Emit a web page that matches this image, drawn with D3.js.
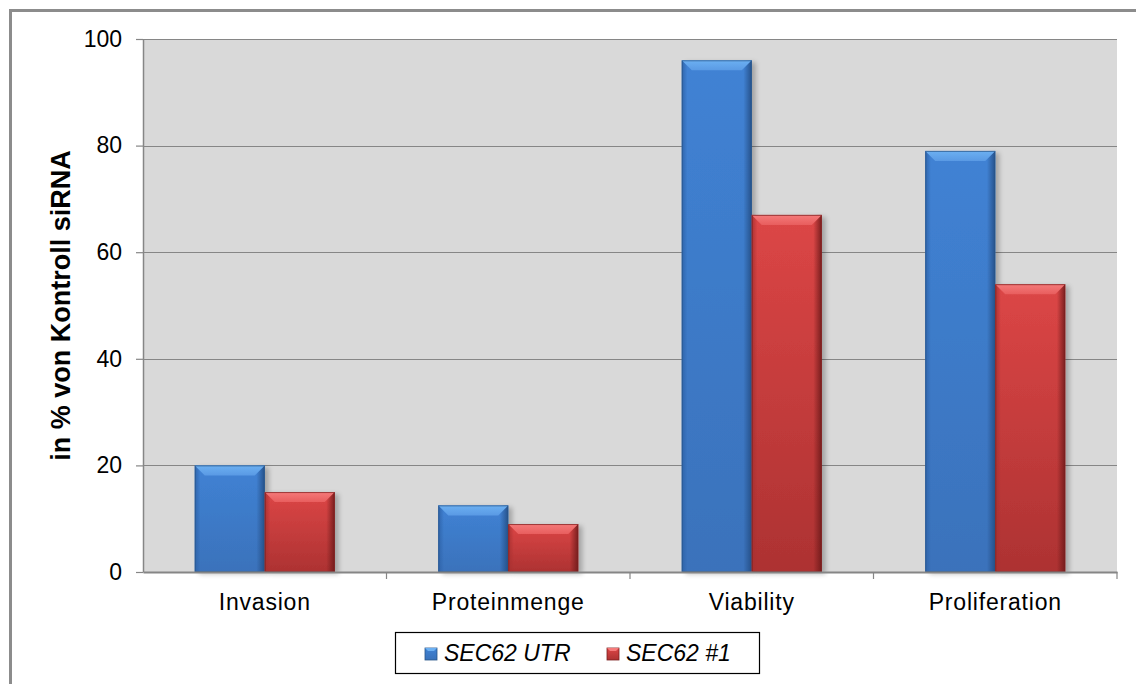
<!DOCTYPE html>
<html>
<head>
<meta charset="utf-8">
<script src="https://cdn.jsdelivr.net/npm/d3@7"></script>
<style>
  html, body { margin: 0; padding: 0; background: #fff; }
  svg { display: block; font-family: "Liberation Sans", Arial, sans-serif; }
</style>
</head>
<body>
<svg id="chart" width="1136" height="684"></svg>
<script>
// Knockdown effects relative to control siRNA (%)
const categories = ["Invasion", "Proteinmenge", "Viability", "Proliferation"];
const seriesNames = ["SEC62 UTR", "SEC62 #1"];
const utrValues = [20, 12.5, 96, 79];
const oneValues = [15, 9, 67, 54];
const yTicks = [0, 20, 40, 60, 80, 100];

const W = 1136, H = 684;
const margin = { left: 143, right: 19, top: 39, bottom: 112 };
const svg = d3.select("#chart");

// outer frame
svg.append("rect")
  .attr("x", 10.5).attr("y", 10.5)
  .attr("width", W + 20).attr("height", H + 20)
  .attr("fill", "none").attr("stroke", "#8c8c8c").attr("stroke-width", 3);

const x0 = d3.scaleBand().domain(categories)
  .range([margin.left, W - margin.right]).paddingInner(0).paddingOuter(0);
const x1 = d3.scaleBand().domain(seriesNames)
  .range([0, x0.bandwidth()]).paddingInner(0).paddingOuter(0.74);
const y = d3.scaleLinear().domain([0, 100]).range([H - margin.bottom, margin.top]);

const defs = svg.append("defs");
const palettes = {
  "SEC62 UTR": { top: "#4082d4", bottom: "#3a72bb", edgeL: "#2d62a8", edgeR: "#234c82", bevel: "#6cb0f2", bevel2: "#5a9ae4", outline: "#2a5688" },
  "SEC62 #1": { top: "#dc4646", bottom: "#ad3232", edgeL: "#a83030", edgeR: "#6e1a1a", bevel: "#f57a7a", bevel2: "#e85e5e", outline: "#7a2020" }
};
seriesNames.forEach((s, i) => {
  const p = palettes[s];
  const g = defs.append("linearGradient").attr("id", "body" + i)
    .attr("x1", 0).attr("y1", 0).attr("x2", 0).attr("y2", 1);
  g.append("stop").attr("offset", "0%").attr("stop-color", p.top);
  g.append("stop").attr("offset", "100%").attr("stop-color", p.bottom);
  const h = defs.append("linearGradient").attr("id", "shade" + i)
    .attr("x1", 0).attr("y1", 0).attr("x2", 1).attr("y2", 0);
  h.append("stop").attr("offset", "0%").attr("stop-color", p.edgeL).attr("stop-opacity", 0.9);
  h.append("stop").attr("offset", "8%").attr("stop-color", p.edgeL).attr("stop-opacity", 0);
  h.append("stop").attr("offset", "88%").attr("stop-color", p.edgeR).attr("stop-opacity", 0);
  h.append("stop").attr("offset", "100%").attr("stop-color", p.edgeR).attr("stop-opacity", 0.9);
  const b = defs.append("linearGradient").attr("id", "bevel" + i)
    .attr("x1", 0).attr("y1", 0).attr("x2", 0).attr("y2", 1);
  b.append("stop").attr("offset", "0%").attr("stop-color", p.bevel);
  b.append("stop").attr("offset", "100%").attr("stop-color", p.bevel2);
});
const shadow = defs.append("filter").attr("id", "shadow")
  .attr("x", "-20%").attr("y", "-10%").attr("width", "150%").attr("height", "130%");
shadow.append("feGaussianBlur").attr("in", "SourceAlpha").attr("stdDeviation", 2.5);
shadow.append("feOffset").attr("dx", 4).attr("dy", 2).attr("result", "o");
shadow.append("feComponentTransfer").append("feFuncA").attr("type", "linear").attr("slope", 0.25);
const merge = shadow.append("feMerge");
merge.append("feMergeNode");
merge.append("feMergeNode").attr("in", "SourceGraphic");

// plot background
svg.append("rect")
  .attr("x", margin.left).attr("y", margin.top)
  .attr("width", W - margin.right - margin.left)
  .attr("height", y(0) - margin.top)
  .attr("fill", "#d9d9d9");

// gridlines
svg.append("g").selectAll("line").data(yTicks.filter(d => d > 0)).join("line")
  .attr("x1", margin.left).attr("x2", W - margin.right)
  .attr("y1", d => Math.round(y(d)) + 0.5).attr("y2", d => Math.round(y(d)) + 0.5)
  .attr("stroke", "#868686").attr("stroke-width", 1.2);

// bars
const rows = categories.map((c, k) => ({ cat: c, vals: [utrValues[k], oneValues[k]] }));
const barG = svg.append("g");
rows.forEach(r => {
  r.vals.forEach((v, i) => {
    const s = seriesNames[i];
    const p = palettes[s];
    const bx = x0(r.cat) + x1(s);
    const bw = x1.bandwidth();
    const by = y(v);
    const bh = y(0) - y(v);
    const g = barG.append("g");
    g.append("rect").attr("x", bx).attr("y", by).attr("width", bw).attr("height", bh)
      .attr("fill", `url(#body${i})`).attr("filter", "url(#shadow)");
    g.append("rect").attr("x", bx).attr("y", by).attr("width", bw).attr("height", bh)
      .attr("fill", `url(#shade${i})`);
    const bev = Math.min(10, bh * 0.4);
    g.append("path")
      .attr("d", `M${bx},${by} L${bx + bw},${by} L${bx + bw - bev},${by + bev} L${bx + bev},${by + bev} Z`)
      .attr("fill", `url(#bevel${i})`);
    g.append("rect").attr("x", bx + 0.5).attr("y", by + 0.5).attr("width", bw - 1).attr("height", bh - 1)
      .attr("fill", "none").attr("stroke", p.outline).attr("stroke-width", 1).attr("stroke-opacity", 0.7);
  });
});

// y axis
const yAxis = svg.append("g").attr("transform", `translate(${margin.left},0)`)
  .call(d3.axisLeft(y).tickValues(yTicks).tickSize(7).tickPadding(14).tickSizeOuter(0));
yAxis.select(".domain").attr("stroke", "#868686").attr("stroke-width", 1.5);
yAxis.selectAll(".tick line").attr("stroke", "#868686").attr("stroke-width", 1.2);
yAxis.selectAll(".tick text").attr("fill", "#000").attr("font-size", 23)
  .attr("font-family", "'Liberation Sans', Arial, sans-serif");

// x axis
const xAxis = svg.append("g").attr("transform", `translate(0,${y(0)})`)
  .call(d3.axisBottom(x0).tickSize(0).tickPadding(22).tickSizeOuter(0));
xAxis.select(".domain").attr("stroke", "#868686").attr("stroke-width", 2);
xAxis.selectAll(".tick text").attr("fill", "#000").attr("font-size", 23)
  .attr("letter-spacing", 0.8)
  .attr("font-family", "'Liberation Sans', Arial, sans-serif");
// category separators
svg.append("g").selectAll("line").data(categories).join("line")
  .attr("x1", d => x0(d) + x0.bandwidth()).attr("x2", d => x0(d) + x0.bandwidth())
  .attr("y1", y(0)).attr("y2", y(0) + 7)
  .attr("stroke", "#868686").attr("stroke-width", 1.2);

// y axis title
svg.append("text")
  .attr("transform", `translate(70,${(y(0) + y(100)) / 2}) rotate(-90)`)
  .attr("text-anchor", "middle")
  .attr("font-size", 27).attr("font-weight", "bold")
  .text("in % von Kontroll siRNA");

// legend
const legend = svg.append("g");
legend.append("rect").attr("x", 395.5).attr("y", 632.5).attr("width", 364).attr("height", 41)
  .attr("fill", "#fff").attr("stroke", "#000").attr("stroke-width", 1.2);
const legX = [425, 607];
seriesNames.forEach((s, i) => {
  const p = palettes[s];
  const lx = legX[i];
  legend.append("rect").attr("x", lx).attr("y", 648).attr("width", 12).attr("height", 12)
    .attr("fill", `url(#body${i})`).attr("stroke", p.outline).attr("stroke-width", 0.8);
  legend.append("path")
    .attr("d", `M${lx},${648} L${lx + 12},${648} L${lx + 9},${651} L${lx + 3},${651} Z`)
    .attr("fill", p.bevel);
  legend.append("text").attr("x", lx + 19).attr("y", 661)
    .attr("font-size", 23).attr("font-style", "italic")
    .text(s);
});
</script>
</body>
</html>
